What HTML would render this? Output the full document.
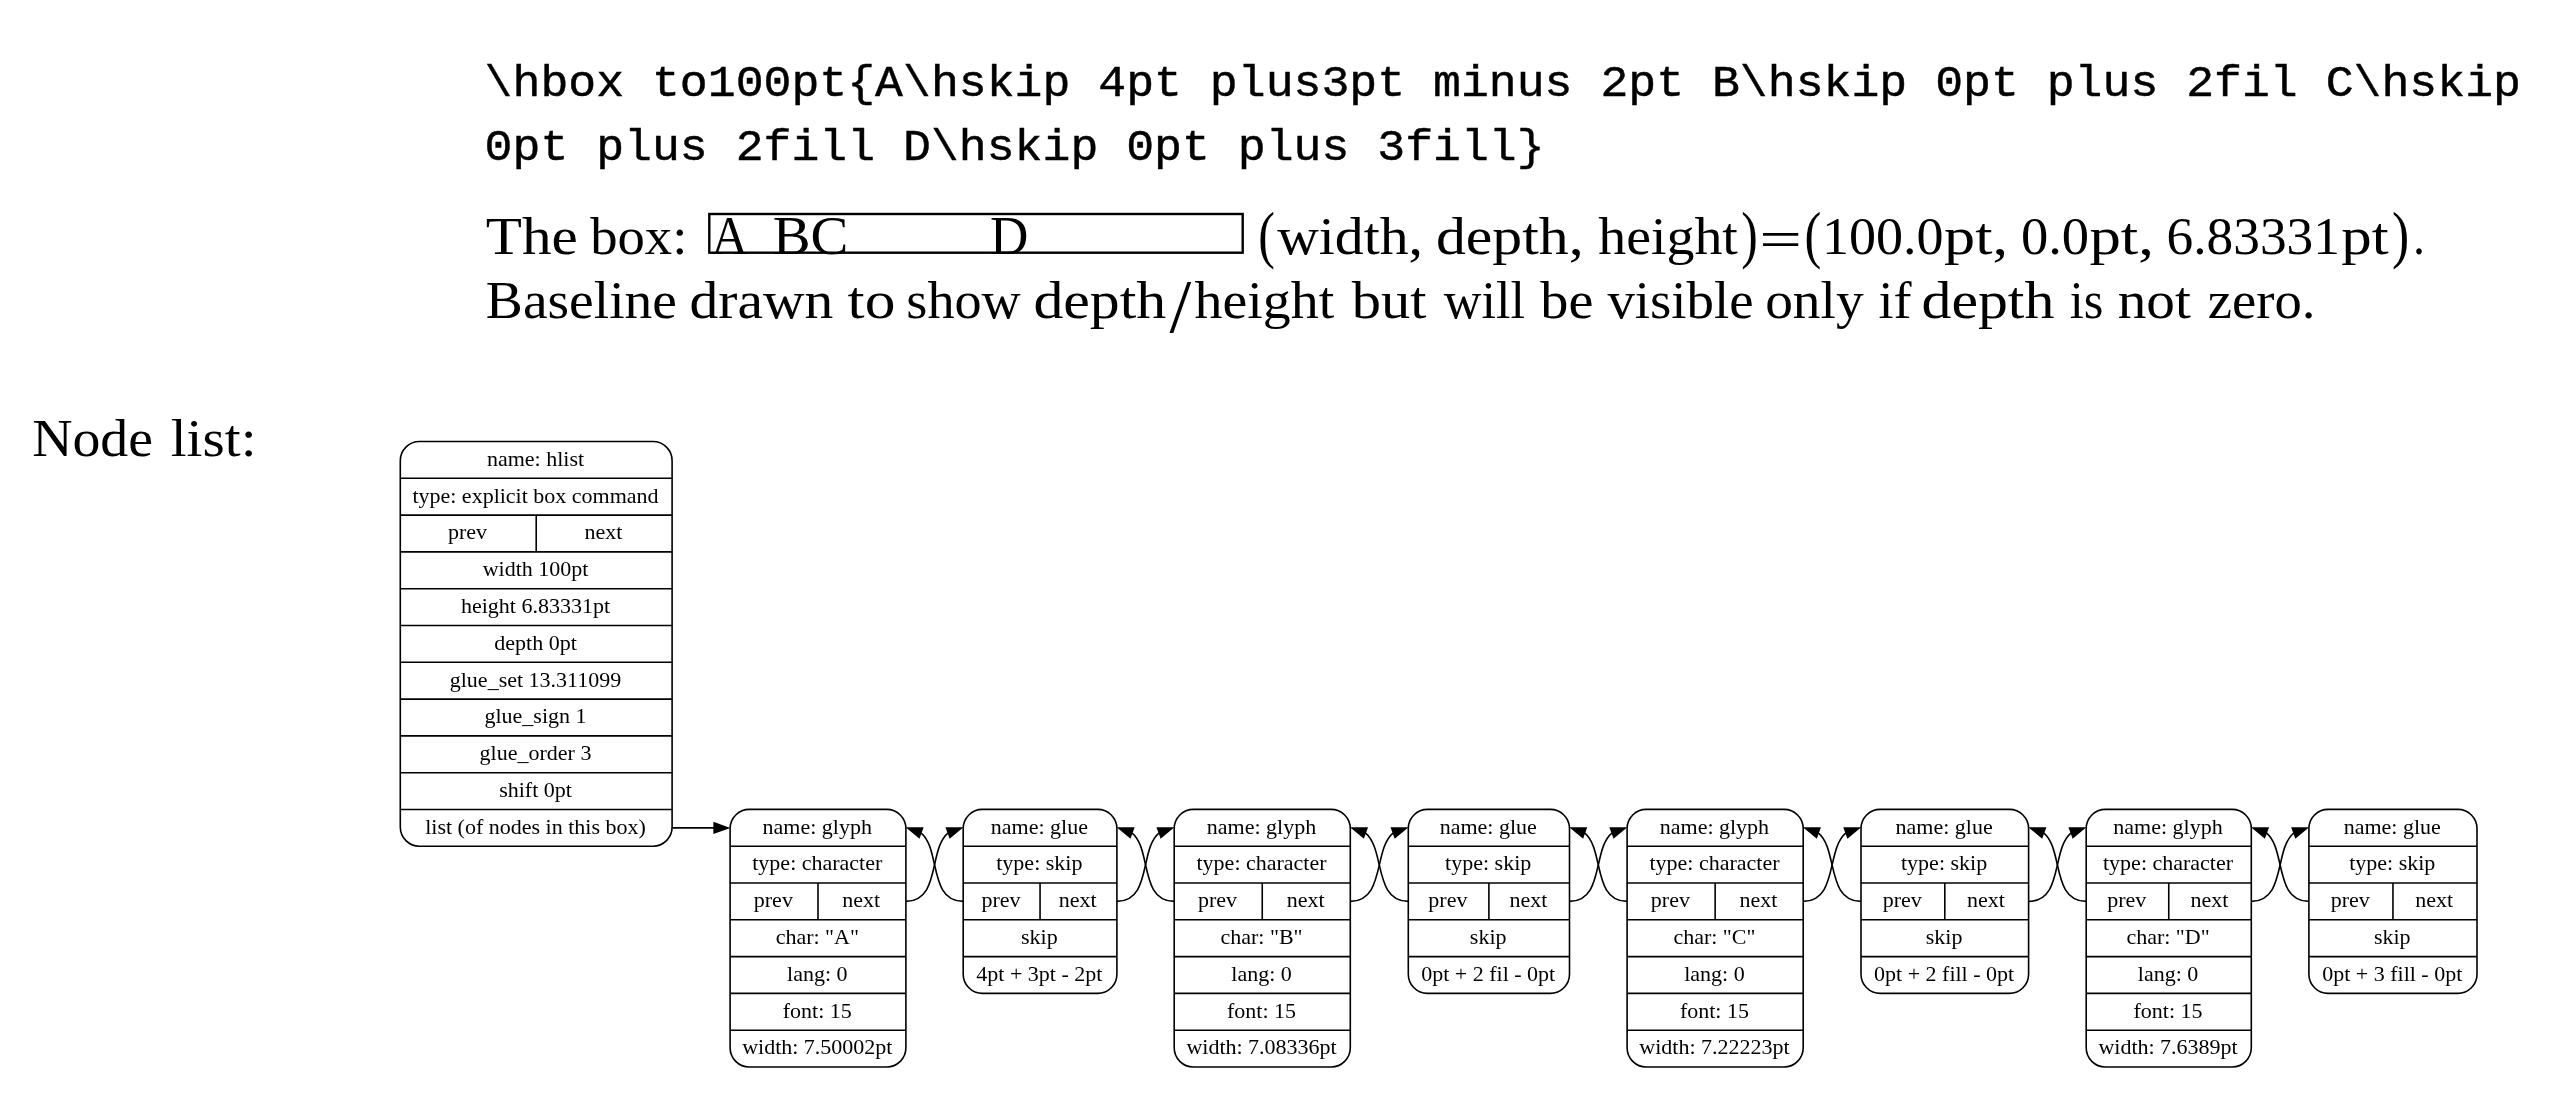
<!DOCTYPE html>
<html><head><meta charset="utf-8"><title>hbox node list</title>
<style>
html,body{margin:0;padding:0;background:#fff;}
svg{display:block;filter:grayscale(1)}
.s{font-family:"Liberation Serif",serif;fill:#000}
.m{font-family:"Liberation Mono",monospace;fill:#000;stroke:#000;stroke-width:0.45px}
.g{font-family:"Liberation Serif",serif;font-size:22.0px;text-anchor:middle;fill:#000}
.b{fill:none;stroke:#000;stroke-width:1.6}
.e{fill:none;stroke:#000;stroke-width:1.6}
.a{fill:#000;stroke:none}
</style></head><body>
<svg width="2558" height="1118" viewBox="0 0 2558 1118">
<text class="s" x="485.89" y="253.5" font-size="53.3" textLength="91.99" lengthAdjust="spacingAndGlyphs">The</text>
<text class="s" x="590.20" y="253.5" font-size="53.3" textLength="97.16" lengthAdjust="spacingAndGlyphs">box:</text>
<text class="s" x="711.50" y="253.5" font-size="55.4" textLength="36.51" lengthAdjust="spacingAndGlyphs">A</text>
<text class="s" x="772.68" y="253.5" font-size="55.4" textLength="75.69" lengthAdjust="spacingAndGlyphs">BC</text>
<text class="s" x="990.04" y="253.5" font-size="55.4" textLength="38.39" lengthAdjust="spacingAndGlyphs">D</text>
<text class="s" x="1258.30" y="255.7" font-size="62.5" textLength="16.66" lengthAdjust="spacingAndGlyphs">(</text>
<text class="s" x="1277.20" y="253.5" font-size="53.3" textLength="145.76" lengthAdjust="spacingAndGlyphs">width,</text>
<text class="s" x="1435.96" y="253.5" font-size="53.3" textLength="147.71" lengthAdjust="spacingAndGlyphs">depth,</text>
<text class="s" x="1598.30" y="253.5" font-size="53.3" textLength="139.53" lengthAdjust="spacingAndGlyphs">height</text>
<text class="s" x="1741.31" y="255.7" font-size="62.5" textLength="16.53" lengthAdjust="spacingAndGlyphs">)</text>
<text class="s" x="1759.24" y="257.0" font-size="53.3" textLength="42.69" lengthAdjust="spacingAndGlyphs">=</text>
<text class="s" x="1804.38" y="255.7" font-size="62.5" textLength="16.79" lengthAdjust="spacingAndGlyphs">(</text>
<text class="s" x="1822.03" y="253.5" font-size="53.3" textLength="121.51" lengthAdjust="spacingAndGlyphs">100.0</text>
<text class="s" x="1944.13" y="253.5" font-size="53.3" textLength="63.91" lengthAdjust="spacingAndGlyphs">pt,</text>
<text class="s" x="2020.95" y="253.5" font-size="53.3" textLength="68.21" lengthAdjust="spacingAndGlyphs">0.0</text>
<text class="s" x="2089.42" y="253.5" font-size="53.3" textLength="64.56" lengthAdjust="spacingAndGlyphs">pt,</text>
<text class="s" x="2166.60" y="253.5" font-size="53.3" textLength="173.32" lengthAdjust="spacingAndGlyphs">6.83331</text>
<text class="s" x="2341.26" y="253.5" font-size="53.3" textLength="47.38" lengthAdjust="spacingAndGlyphs">pt</text>
<text class="s" x="2392.05" y="255.7" font-size="62.5" textLength="17.18" lengthAdjust="spacingAndGlyphs">)</text>
<text class="s" x="2412.90" y="253.5" font-size="53.3" textLength="12.00" lengthAdjust="spacingAndGlyphs">.</text>
<text class="s" x="485.86" y="317.5" font-size="53.3" textLength="191.14" lengthAdjust="spacingAndGlyphs">Baseline</text>
<text class="s" x="689.54" y="317.5" font-size="53.3" textLength="143.76" lengthAdjust="spacingAndGlyphs">drawn</text>
<text class="s" x="847.60" y="317.5" font-size="53.3" textLength="47.74" lengthAdjust="spacingAndGlyphs">to</text>
<text class="s" x="906.37" y="317.5" font-size="53.3" textLength="114.37" lengthAdjust="spacingAndGlyphs">show</text>
<text class="s" x="1033.46" y="317.5" font-size="53.3" textLength="132.82" lengthAdjust="spacingAndGlyphs">depth</text>
<text class="s" x="1169.50" y="331.8" font-size="77.0" textLength="21.71" lengthAdjust="spacingAndGlyphs">/</text>
<text class="s" x="1194.60" y="317.5" font-size="53.3" textLength="139.63" lengthAdjust="spacingAndGlyphs">height</text>
<text class="s" x="1351.80" y="317.5" font-size="53.3" textLength="74.62" lengthAdjust="spacingAndGlyphs">but</text>
<text class="s" x="1443.80" y="317.5" font-size="53.3" textLength="81.10" lengthAdjust="spacingAndGlyphs">will</text>
<text class="s" x="1540.30" y="317.5" font-size="53.3" textLength="53.08" lengthAdjust="spacingAndGlyphs">be</text>
<text class="s" x="1607.40" y="317.5" font-size="53.3" textLength="146.19" lengthAdjust="spacingAndGlyphs">visible</text>
<text class="s" x="1765.22" y="317.5" font-size="53.3" textLength="98.33" lengthAdjust="spacingAndGlyphs">only</text>
<text class="s" x="1878.58" y="317.5" font-size="53.3" textLength="33.07" lengthAdjust="spacingAndGlyphs">if</text>
<text class="s" x="1921.56" y="317.5" font-size="53.3" textLength="132.82" lengthAdjust="spacingAndGlyphs">depth</text>
<text class="s" x="2069.66" y="317.5" font-size="53.3" textLength="33.57" lengthAdjust="spacingAndGlyphs">is</text>
<text class="s" x="2117.73" y="317.5" font-size="53.3" textLength="73.19" lengthAdjust="spacingAndGlyphs">not</text>
<text class="s" x="2207.67" y="317.5" font-size="53.3" textLength="107.75" lengthAdjust="spacingAndGlyphs">zero.</text>
<text class="s" x="32.15" y="456.4" font-size="53.3" textLength="120.87" lengthAdjust="spacingAndGlyphs">Node</text>
<text class="s" x="170.73" y="456.4" font-size="53.3" textLength="85.85" lengthAdjust="spacingAndGlyphs">list:</text>
<text class="m" x="484.6" y="96" font-size="44.6" textLength="2036.34" lengthAdjust="spacingAndGlyphs">\hbox to100pt{A\hskip 4pt plus3pt minus 2pt B\hskip 0pt plus 2fil C\hskip</text>
<text class="m" x="484.6" y="160" font-size="44.6" textLength="1060.01" lengthAdjust="spacingAndGlyphs">0pt plus 2fill D\hskip 0pt plus 3fill}</text>
<rect x="709.3" y="214" width="533.4" height="38.7" fill="none" stroke="#000" stroke-width="2.4"/>
<rect x="400.3" y="441.5" width="271.80" height="404.80" rx="19.2" ry="19.2" class="b"/>
<text class="g" x="535.50" y="465.75">name: hlist</text>
<path d="M400.3,478.30H672.1" class="b"/>
<text class="g" x="535.50" y="502.55">type: explicit box command</text>
<path d="M400.3,515.10H672.1" class="b"/>
<path d="M536.20,515.10V551.90" class="b"/>
<text class="g" x="467.55" y="539.35">prev</text>
<text class="g" x="603.45" y="539.35">next</text>
<path d="M400.3,551.90H672.1" class="b"/>
<text class="g" x="535.50" y="576.15">width 100pt</text>
<path d="M400.3,588.70H672.1" class="b"/>
<text class="g" x="535.50" y="612.95">height 6.83331pt</text>
<path d="M400.3,625.50H672.1" class="b"/>
<text class="g" x="535.50" y="649.75">depth 0pt</text>
<path d="M400.3,662.30H672.1" class="b"/>
<text class="g" x="535.50" y="686.55">glue_set 13.311099</text>
<path d="M400.3,699.10H672.1" class="b"/>
<text class="g" x="535.50" y="723.35">glue_sign 1</text>
<path d="M400.3,735.90H672.1" class="b"/>
<text class="g" x="535.50" y="760.15">glue_order 3</text>
<path d="M400.3,772.70H672.1" class="b"/>
<text class="g" x="535.50" y="796.95">shift 0pt</text>
<path d="M400.3,809.50H672.1" class="b"/>
<text class="g" x="535.50" y="833.75">list (of nodes in this box)</text>
<rect x="730.1" y="809.4" width="175.80" height="257.60" rx="19.2" ry="19.2" class="b"/>
<text class="g" x="817.30" y="833.65">name: glyph</text>
<path d="M730.1,846.20H905.9" class="b"/>
<text class="g" x="817.30" y="870.45">type: character</text>
<path d="M730.1,883.00H905.9" class="b"/>
<path d="M818.00,883.00V919.80" class="b"/>
<text class="g" x="773.35" y="907.25">prev</text>
<text class="g" x="861.25" y="907.25">next</text>
<path d="M730.1,919.80H905.9" class="b"/>
<text class="g" x="817.30" y="944.05">char: "A"</text>
<path d="M730.1,956.60H905.9" class="b"/>
<text class="g" x="817.30" y="980.85">lang: 0</text>
<path d="M730.1,993.40H905.9" class="b"/>
<text class="g" x="817.30" y="1017.65">font: 15</text>
<path d="M730.1,1030.20H905.9" class="b"/>
<text class="g" x="817.30" y="1054.45">width: 7.50002pt</text>
<rect x="963.2" y="809.4" width="153.70" height="184.00" rx="19.2" ry="19.2" class="b"/>
<text class="g" x="1039.35" y="833.65">name: glue</text>
<path d="M963.2,846.20H1116.9" class="b"/>
<text class="g" x="1039.35" y="870.45">type: skip</text>
<path d="M963.2,883.00H1116.9" class="b"/>
<path d="M1040.05,883.00V919.80" class="b"/>
<text class="g" x="1000.93" y="907.25">prev</text>
<text class="g" x="1077.78" y="907.25">next</text>
<path d="M963.2,919.80H1116.9" class="b"/>
<text class="g" x="1039.35" y="944.05">skip</text>
<path d="M963.2,956.60H1116.9" class="b"/>
<text class="g" x="1039.35" y="980.85">4pt + 3pt - 2pt</text>
<rect x="1174.2" y="809.4" width="176.10" height="257.60" rx="19.2" ry="19.2" class="b"/>
<text class="g" x="1261.55" y="833.65">name: glyph</text>
<path d="M1174.2,846.20H1350.3" class="b"/>
<text class="g" x="1261.55" y="870.45">type: character</text>
<path d="M1174.2,883.00H1350.3" class="b"/>
<path d="M1262.25,883.00V919.80" class="b"/>
<text class="g" x="1217.52" y="907.25">prev</text>
<text class="g" x="1305.58" y="907.25">next</text>
<path d="M1174.2,919.80H1350.3" class="b"/>
<text class="g" x="1261.55" y="944.05">char: "B"</text>
<path d="M1174.2,956.60H1350.3" class="b"/>
<text class="g" x="1261.55" y="980.85">lang: 0</text>
<path d="M1174.2,993.40H1350.3" class="b"/>
<text class="g" x="1261.55" y="1017.65">font: 15</text>
<path d="M1174.2,1030.20H1350.3" class="b"/>
<text class="g" x="1261.55" y="1054.45">width: 7.08336pt</text>
<rect x="1408.3" y="809.4" width="161.20" height="184.00" rx="19.2" ry="19.2" class="b"/>
<text class="g" x="1488.20" y="833.65">name: glue</text>
<path d="M1408.3,846.20H1569.5" class="b"/>
<text class="g" x="1488.20" y="870.45">type: skip</text>
<path d="M1408.3,883.00H1569.5" class="b"/>
<path d="M1488.90,883.00V919.80" class="b"/>
<text class="g" x="1447.90" y="907.25">prev</text>
<text class="g" x="1528.50" y="907.25">next</text>
<path d="M1408.3,919.80H1569.5" class="b"/>
<text class="g" x="1488.20" y="944.05">skip</text>
<path d="M1408.3,956.60H1569.5" class="b"/>
<text class="g" x="1488.20" y="980.85">0pt + 2 fil - 0pt</text>
<rect x="1627.1" y="809.4" width="176.10" height="257.60" rx="19.2" ry="19.2" class="b"/>
<text class="g" x="1714.45" y="833.65">name: glyph</text>
<path d="M1627.1,846.20H1803.2" class="b"/>
<text class="g" x="1714.45" y="870.45">type: character</text>
<path d="M1627.1,883.00H1803.2" class="b"/>
<path d="M1715.15,883.00V919.80" class="b"/>
<text class="g" x="1670.42" y="907.25">prev</text>
<text class="g" x="1758.48" y="907.25">next</text>
<path d="M1627.1,919.80H1803.2" class="b"/>
<text class="g" x="1714.45" y="944.05">char: "C"</text>
<path d="M1627.1,956.60H1803.2" class="b"/>
<text class="g" x="1714.45" y="980.85">lang: 0</text>
<path d="M1627.1,993.40H1803.2" class="b"/>
<text class="g" x="1714.45" y="1017.65">font: 15</text>
<path d="M1627.1,1030.20H1803.2" class="b"/>
<text class="g" x="1714.45" y="1054.45">width: 7.22223pt</text>
<rect x="1861" y="809.4" width="167.60" height="184.00" rx="19.2" ry="19.2" class="b"/>
<text class="g" x="1944.10" y="833.65">name: glue</text>
<path d="M1861,846.20H2028.6" class="b"/>
<text class="g" x="1944.10" y="870.45">type: skip</text>
<path d="M1861,883.00H2028.6" class="b"/>
<path d="M1944.80,883.00V919.80" class="b"/>
<text class="g" x="1902.20" y="907.25">prev</text>
<text class="g" x="1986.00" y="907.25">next</text>
<path d="M1861,919.80H2028.6" class="b"/>
<text class="g" x="1944.10" y="944.05">skip</text>
<path d="M1861,956.60H2028.6" class="b"/>
<text class="g" x="1944.10" y="980.85">0pt + 2 fill - 0pt</text>
<rect x="2086.2" y="809.4" width="165.10" height="257.60" rx="19.2" ry="19.2" class="b"/>
<text class="g" x="2168.05" y="833.65">name: glyph</text>
<path d="M2086.2,846.20H2251.3" class="b"/>
<text class="g" x="2168.05" y="870.45">type: character</text>
<path d="M2086.2,883.00H2251.3" class="b"/>
<path d="M2168.75,883.00V919.80" class="b"/>
<text class="g" x="2126.78" y="907.25">prev</text>
<text class="g" x="2209.33" y="907.25">next</text>
<path d="M2086.2,919.80H2251.3" class="b"/>
<text class="g" x="2168.05" y="944.05">char: "D"</text>
<path d="M2086.2,956.60H2251.3" class="b"/>
<text class="g" x="2168.05" y="980.85">lang: 0</text>
<path d="M2086.2,993.40H2251.3" class="b"/>
<text class="g" x="2168.05" y="1017.65">font: 15</text>
<path d="M2086.2,1030.20H2251.3" class="b"/>
<text class="g" x="2168.05" y="1054.45">width: 7.6389pt</text>
<rect x="2308.9" y="809.4" width="168.10" height="184.00" rx="19.2" ry="19.2" class="b"/>
<text class="g" x="2392.25" y="833.65">name: glue</text>
<path d="M2308.9,846.20H2477" class="b"/>
<text class="g" x="2392.25" y="870.45">type: skip</text>
<path d="M2308.9,883.00H2477" class="b"/>
<path d="M2392.95,883.00V919.80" class="b"/>
<text class="g" x="2350.23" y="907.25">prev</text>
<text class="g" x="2434.28" y="907.25">next</text>
<path d="M2308.9,919.80H2477" class="b"/>
<text class="g" x="2392.25" y="944.05">skip</text>
<path d="M2308.9,956.60H2477" class="b"/>
<text class="g" x="2392.25" y="980.85">0pt + 3 fill - 0pt</text>
<path d="M672.1,827.90H714.10" class="e"/>
<path d="M713.40,834.00L730.40,827.90L713.40,821.80Z" class="a"/>
<path d="M905.9,901.40C940.80,901.40 928.27,848.89 948.17,832.79" class="e"/>
<path d="M949.61,838.76L963.48,827.20L945.42,827.30Z" class="a"/>
<path d="M963.2,901.40C928.30,901.40 940.83,848.89 920.93,832.79" class="e"/>
<path d="M923.68,827.30L905.62,827.20L919.49,838.76Z" class="a"/>
<path d="M1116.9,901.40C1151.80,901.40 1139.27,848.89 1159.17,832.79" class="e"/>
<path d="M1160.61,838.76L1174.48,827.20L1156.42,827.30Z" class="a"/>
<path d="M1174.2,901.40C1139.30,901.40 1151.83,848.89 1131.93,832.79" class="e"/>
<path d="M1134.68,827.30L1116.62,827.20L1130.49,838.76Z" class="a"/>
<path d="M1350.3,901.40C1385.20,901.40 1373.37,848.89 1393.27,832.79" class="e"/>
<path d="M1394.71,838.76L1408.58,827.20L1390.52,827.30Z" class="a"/>
<path d="M1408.3,901.40C1373.40,901.40 1385.23,848.89 1365.33,832.79" class="e"/>
<path d="M1368.08,827.30L1350.02,827.20L1363.89,838.76Z" class="a"/>
<path d="M1569.5,901.40C1604.40,901.40 1592.17,848.89 1612.07,832.79" class="e"/>
<path d="M1613.51,838.76L1627.38,827.20L1609.32,827.30Z" class="a"/>
<path d="M1627.1,901.40C1592.20,901.40 1604.43,848.89 1584.53,832.79" class="e"/>
<path d="M1587.28,827.30L1569.22,827.20L1583.09,838.76Z" class="a"/>
<path d="M1803.2,901.40C1838.10,901.40 1826.07,848.89 1845.97,832.79" class="e"/>
<path d="M1847.41,838.76L1861.28,827.20L1843.22,827.30Z" class="a"/>
<path d="M1861,901.40C1826.10,901.40 1838.13,848.89 1818.23,832.79" class="e"/>
<path d="M1820.98,827.30L1802.92,827.20L1816.79,838.76Z" class="a"/>
<path d="M2028.6,901.40C2063.50,901.40 2051.27,848.89 2071.17,832.79" class="e"/>
<path d="M2072.61,838.76L2086.48,827.20L2068.42,827.30Z" class="a"/>
<path d="M2086.2,901.40C2051.30,901.40 2063.53,848.89 2043.63,832.79" class="e"/>
<path d="M2046.38,827.30L2028.32,827.20L2042.19,838.76Z" class="a"/>
<path d="M2251.3,901.40C2286.20,901.40 2273.97,848.89 2293.87,832.79" class="e"/>
<path d="M2295.31,838.76L2309.18,827.20L2291.12,827.30Z" class="a"/>
<path d="M2308.9,901.40C2274.00,901.40 2286.23,848.89 2266.33,832.79" class="e"/>
<path d="M2269.08,827.30L2251.02,827.20L2264.89,838.76Z" class="a"/>
</svg>
</body></html>
